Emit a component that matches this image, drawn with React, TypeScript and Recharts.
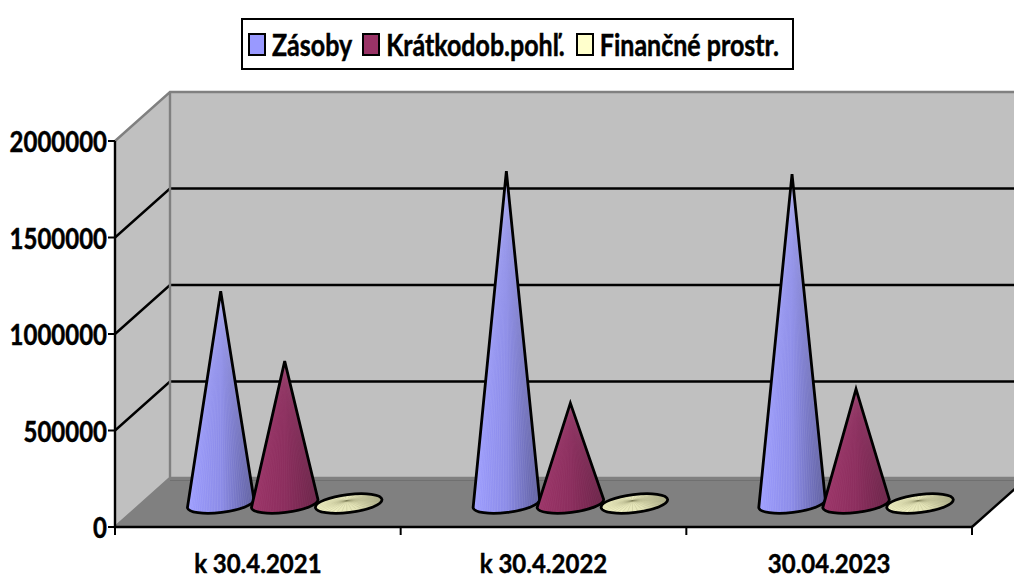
import React from "react";
import { BarChart, Bar, XAxis, YAxis, Legend, ReferenceArea } from "recharts";

const categories = ["k 30.4.2021", "k 30.4.2022", "30.04.2023"];
const zasoby = [1100000, 1722000, 1707000];
const kratkodob = [738000, 520000, 593000];
const financne = [30000, 30000, 30000];
const yTicks = [0, 500000, 1000000, 1500000, 2000000];
const seriesNames = ["Zásoby", "Krátkodob.pohľ.", "Finančné prostr."];
const seriesColors = ["#9999ff", "#993366", "#ffffcc"];

const tableData = categories.map((name, i) => ({
  name,
  a: zasoby[i],
  b: kratkodob[i],
  c: financne[i],
}));

const DX = 55;
const DY = 49;
const FONT = "Lato, Carlito, sans-serif";
const YMAX = yTicks[yTicks.length - 1];
const STRETCH = 1.2;

function Walls(props: any) {
  const { x, y, width, height } = props;
  const b = y + height;
  const r = x + width;
  const backX = x + DX;
  const yFor = (v: number) => b - (v / YMAX) * height;
  const slot = width / categories.length;
  return (
    <g>
      <polygon points={`${x},${b} ${backX},${b - DY} ${backX},${y - DY} ${x},${y}`} fill="#c0c0c0" />
      <rect x={backX} y={y - DY} width={r + DX - backX} height={height} fill="#c0c0c0" />
      <polygon points={`${x},${b} ${r},${b} ${r + DX},${b - DY} ${backX},${b - DY}`} fill="#808080" />
      {yTicks.slice(1, -1).map((v) => (
        <path
          key={v}
          d={`M${x},${yFor(v)} L${backX},${yFor(v) - DY} L${r + DX},${yFor(v) - DY}`}
          fill="none"
          stroke="#000"
          strokeWidth={2.4}
        />
      ))}
      <path
        d={`M${x},${y} L${backX},${y - DY} L${r + DX},${y - DY} M${backX},${y - DY} L${backX},${b - DY} L${r + DX},${b - DY} M${backX},${b - DY} L${x},${b}`}
        fill="none"
        stroke="#808080"
        strokeWidth={2.4}
      />
      <line x1={backX} x2={r + DX} y1={b - DY + 2.5} y2={b - DY + 2.5} stroke="#707070" strokeWidth={1} />
      <path d={`M${r},${b} L${r + DX},${b - DY}`} stroke="#000" strokeWidth={2.4} fill="none" />
      <path d={`M${x},${y} L${x},${b} L${r},${b}`} stroke="#000" strokeWidth={2.4} fill="none" />
      {categories.concat("").map((_, i) => (
        <line key={i} x1={x + slot * i} x2={x + slot * i} y1={b} y2={b + 8} stroke="#000" strokeWidth={2} />
      ))}
    </g>
  );
}

function makeCone(gradientId: string, rayColor: string, rayOpacity: number) {
  return function Cone(props: any) {
    const { x, y, width, height } = props;
    const cx = x + width / 2 + DX / 2 - 0.8;
    const baseY = y + height - DY / 2 + 1;
    const apexY = y - DY / 2 + 1;
    const rx = 33.5;
    const ry = 9;
    const tilt = -7;
    const rad = (tilt * Math.PI) / 180;
    const lx = cx - rx * Math.cos(rad);
    const ly = baseY - rx * Math.sin(rad);
    const rxp = cx + rx * Math.cos(rad);
    const ryp = baseY + rx * Math.sin(rad);
    const flat = baseY - apexY < 20;
    const rays = Array.from({ length: 36 }, (_, i) => {
      const t = (i + 0.5) / 36;
      const ang = flat ? t * 2 * Math.PI : Math.PI * t;
      const ex = rx * Math.cos(ang);
      const ey = ry * Math.sin(ang);
      return (
        <line
          key={i}
          x1={cx + (flat ? -2 : 0)}
          y1={apexY + (flat ? 3 : 0)}
          x2={cx + ex * Math.cos(rad) - ey * Math.sin(rad)}
          y2={baseY + ex * Math.sin(rad) + ey * Math.cos(rad)}
          stroke={rayColor}
          strokeOpacity={rayOpacity}
          strokeWidth={1}
        />
      );
    });
    if (flat) {
      return (
        <g>
          <ellipse cx={cx} cy={baseY} rx={rx} ry={ry} transform={`rotate(${tilt} ${cx} ${baseY})`} fill={`url(#${gradientId})`} />
          {rays}
          <ellipse cx={cx} cy={baseY} rx={rx} ry={ry} transform={`rotate(${tilt} ${cx} ${baseY})`} fill="none" stroke="#000" strokeWidth={2.8} />
        </g>
      );
    }
    const d = `M${cx},${apexY} L${rxp},${ryp} A${rx},${ry} ${tilt} 0 1 ${lx},${ly} Z`;
    return (
      <g>
        <path d={d} fill={`url(#${gradientId})`} />
        {rays}
        <path d={d} fill="none" stroke="#000" strokeWidth={2.8} strokeLinejoin="miter" />
      </g>
    );
  };
}

const ConeA = makeCone("gradA", "#ffffff", 0.08);
const ConeB = makeCone("gradB", "#ffffff", 0.03);
const ConeC = makeCone("gradC", "#77774f", 0.16);

function StretchTick(props: any) {
  const { x, y, payload, textAnchor, fontSize, shiftY, stretch } = props;
  return (
    <text
      transform={`translate(${x},${y + (shiftY ?? 0)}) scale(1,${stretch ?? STRETCH})`}
      textAnchor={textAnchor}
      dy="0.355em"
      fill="#000"
      stroke="#000"
      strokeWidth={0.4}
      fontFamily={FONT}
      fontWeight={700}
      fontSize={fontSize}
    >
      {payload.value}
    </text>
  );
}

function LegendBox() {
  return (
    <div
      style={{
        boxSizing: "border-box",
        width: 553,
        height: 52,
        background: "#fff",
        border: "2px solid #000",
        display: "flex",
        alignItems: "center",
        paddingLeft: 5,
        fontFamily: FONT,
        fontWeight: 700,
        fontSize: 25,
        color: "#000",
        whiteSpace: "nowrap",
      }}
    >
      {seriesNames.map((n, i) => (
        <span key={n} style={{ display: "flex", alignItems: "center", marginRight: i === 0 ? 10 : 11 }}>
          <span
            style={{
              display: "inline-block",
              boxSizing: "border-box",
              width: 18,
              height: 23,
              background: seriesColors[i],
              border: "2.5px solid #000",
              marginRight: 6,
            }}
          />
          <span style={{ display: "inline-block", transform: `scaleY(${STRETCH})`, WebkitTextStroke: "0.4px #000" }}>{n}</span>
        </span>
      ))}
    </div>
  );
}

export default function App() {
  return (
    <div style={{ position: "absolute", left: 0, top: 0, width: 1014, height: 579, overflow: "hidden", background: "#fff" }}>
      <BarChart
        width={1014}
        height={579}
        data={tableData}
        margin={{ top: 141, right: 42, bottom: 22, left: 0 }}
        barSize={64}
        barGap={0}
        style={{ overflow: "hidden" }}
      >
        <defs>
          <linearGradient id="gradA" x1="0" x2="1" y1="0" y2="0">
            <stop offset="0" stopColor="#9c9cff" />
            <stop offset="0.5" stopColor="#8c8ce8" />
            <stop offset="1" stopColor="#5c5c9c" />
          </linearGradient>
          <linearGradient id="gradB" x1="0" x2="1" y1="0" y2="0">
            <stop offset="0" stopColor="#9c3468" />
            <stop offset="0.5" stopColor="#8c2e5e" />
            <stop offset="1" stopColor="#6a2448" />
          </linearGradient>
          <linearGradient id="gradC" x1="0" x2="1" y1="0" y2="0">
            <stop offset="0" stopColor="#f6f6c8" />
            <stop offset="0.6" stopColor="#e4e4b8" />
            <stop offset="1" stopColor="#b0b08c" />
          </linearGradient>
        </defs>
        <ReferenceArea y1={0} y2={YMAX} ifOverflow="visible" shape={Walls} />
        <XAxis
          dataKey="name"
          height={30}
          tickLine={false}
          axisLine={false}
          tickMargin={18}
          interval={0}
          tick={<StretchTick fontSize={24} shiftY={12} stretch={1.14} />}
        />
        <YAxis
          type="number"
          domain={[0, YMAX]}
          ticks={yTicks}
          width={115}
          interval={0}
          tickSize={7}
          tickMargin={1}
          axisLine={false}
          tickLine={{ stroke: "#000", strokeWidth: 2 }}
          tick={<StretchTick fontSize={24} shiftY={1} />}
        />
        <Legend
          layout="horizontal"
          align="center"
          verticalAlign="middle"
          wrapperStyle={{ position: "absolute", left: 241, top: 18, width: 553, height: 52, bottom: "auto", right: "auto" }}
          content={<LegendBox />}
        />
        <Bar dataKey="a" name={seriesNames[0]} fill={seriesColors[0]} shape={ConeA} isAnimationActive={false} />
        <Bar dataKey="b" name={seriesNames[1]} fill={seriesColors[1]} shape={ConeB} isAnimationActive={false} />
        <Bar dataKey="c" name={seriesNames[2]} fill={seriesColors[2]} shape={ConeC} isAnimationActive={false} />
      </BarChart>
    </div>
  );
}
